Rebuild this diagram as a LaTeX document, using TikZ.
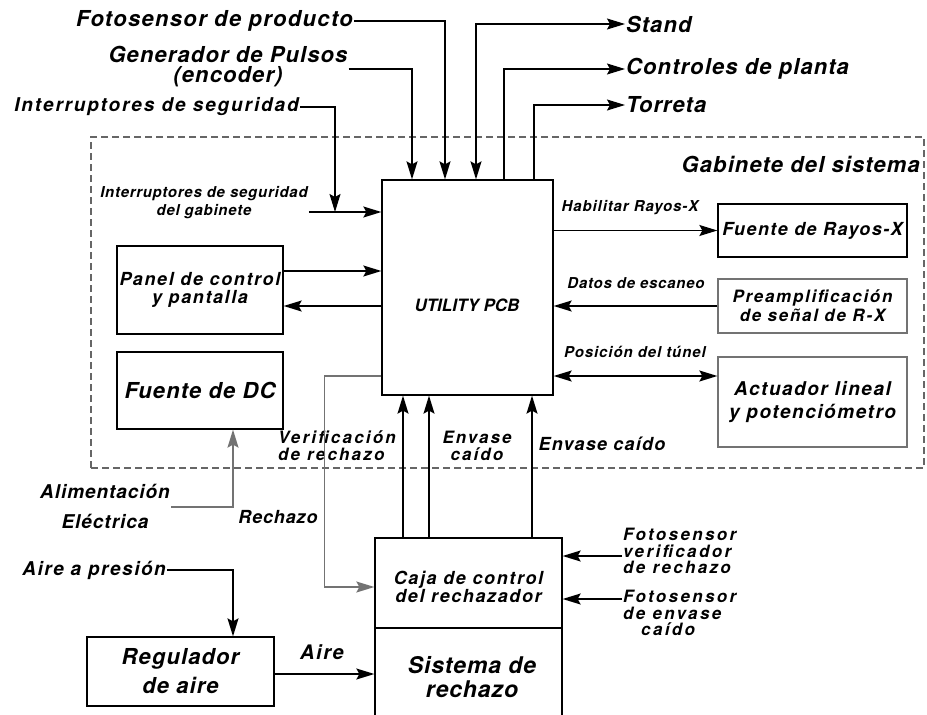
\documentclass[tikz,border=0pt]{standalone}
\usepackage{fontspec}
\setmainfont{TeX Gyre Heros}
\usetikzlibrary{arrows.meta}
\newcommand\F[3]{\bfseries\itshape\fontsize{#1}{#3}\selectfont\addfontfeature{LetterSpace=#2}}
\begin{document}
\begin{tikzpicture}[x=1pt,y=-1pt,
  every node/.style={inner sep=1pt},
  box/.style={draw,line width=1.3pt,inner sep=0pt,align=center},
  gbox/.style={box,draw=black!55},
  ln/.style={line width=1.3pt},
  arr/.style={ln,-{Stealth[length=18pt,width=11pt,inset=3pt]}},
  barr/.style={ln,{Stealth[length=18pt,width=11pt,inset=3pt]}-{Stealth[length=18pt,width=11pt,inset=3pt]}},
  garr/.style={arr,draw=black!55},
  tl/.style={align=center}
]
\useasboundingbox (0,0) rectangle (927,715);
% cabinet
\node[draw=black!60,dashed,dash pattern=on 7pt off 4pt,line width=1.2pt,minimum width=833pt,minimum height=331pt,inner sep=0pt] (gab) at (507.5,302.5) {};
\node[anchor=east,font=\F{22}{5}{22}] (gabt) at (921,164) {Gabinete del sistema};

% boxes
\node[box,minimum width=171pt,minimum height=215pt] (util) at (467.5,287.5) {};
\node[font=\F{17}{0}{17}] (utilt) at (467,305) {UTILITY PCB};
\node[box,minimum width=166pt,minimum height=88pt,font=\F{18}{9}{18}] (panel) at (200,290) {Panel de control\\y pantalla};
\node[box,minimum width=166pt,minimum height=77pt,font=\F{22}{5}{22}] (dc) at (200,390.5) {Fuente de DC};
\node[box,minimum width=189pt,minimum height=53pt,font=\F{18}{8}{18}] (frx) at (812.5,230.5) {Fuente de Rayos-X};
\node[gbox,minimum width=189pt,minimum height=54pt,font=\F{17}{10}{19}] (pre) at (812.5,306) {Preamplificación\\de señal de R-X};
\node[gbox,minimum width=189pt,minimum height=90pt,font=\F{19}{8}{23}] (act) at (812.5,402) {Actuador lineal\\y potenciómetro};
\node[box,minimum width=187pt,minimum height=90pt] (caja) at (468.5,583) {};
\node[tl,font=\F{18}{9}{17}] (cajat) at (468.5,587) {Caja de control\\del rechazador};
\node[box,minimum width=187pt,minimum height=132pt] (sis) at (468.5,694) {};
\node[tl,font=\F{23}{4}{24}] (sist) at (472,677) {Sistema de\\rechazo};
\node[box,minimum width=187pt,minimum height=69pt,font=\F{22}{5}{29}] (reg) at (180.5,671.5) {Regulador\\de aire};

% outside labels
\node[anchor=east,font=\F{22}{6}{22}] (fp) at (354,21) {Fotosensor de producto};
\node[tl,font=\F{22}{5}{20}] (gp) at (228,67) {Generador de Pulsos\\(encoder)};
\node[anchor=east,font=\F{19}{10}{19}] (is) at (300,107) {Interruptores de seguridad};
\node[tl,font=\F{15}{5}{18}] (isg) at (204,203) {Interruptores de seguridad\\del gabinete};
\node[anchor=west,font=\F{22}{5}{22}] (stand) at (625,24) {Stand};
\node[anchor=west,font=\F{22}{5}{22}] (ctrl) at (625,69) {Controles de planta};
\node[anchor=west,font=\F{22}{5}{22}] (torr) at (625,105) {Torreta};

\node[font=\F{15}{6}{15}] (hab) at (630,208) {Habilitar Rayos-X};
\node[font=\F{15}{5}{15}] (dat) at (636,283) {Datos de escaneo};
\node[font=\F{15}{6}{15}] (pos) at (635,352) {Posición del túnel};
\node[font=\F{18}{7}{18}] (ec2) at (602,444) {Envase caído};
\node[align=left,font=\F{17}{13}{17}] (ver) at (337,446) {Verificación\\de rechazo};
\node[tl,font=\F{17}{12}{17}] (ec1) at (477,446) {Envase\\caído};
\node[font=\F{18}{5}{18}] (rech) at (278,517) {Rechazo};
\node[tl,font=\F{19}{5}{30}] (alim) at (105,506) {Alimentación\\Eléctrica};
\node[anchor=east,font=\F{19}{8}{19}] (ap) at (167,570) {Aire a presión};
\node[font=\F{20}{8}{20}] (aire) at (322,652) {Aire};
\node[anchor=west,align=left,font=\F{17}{14}{16.5}] (fs1) at (622,551) {Fotosensor\\verificador\\de rechazo};
\node[anchor=west,align=left,font=\F{17}{14}{16.5}] (fs2) at (622,613) {Fotosensor\\de envase\\\hspace*{18pt}caído};

% connectors
\coordinate (isj) at (335,212);
\draw[arr] (fp.east) -| (util.north -| 445,0);
\draw[arr] (gp.east |- 0,69) -| (util.north -| 412,0);
\draw[arr] (is.east) -| (isj);
\draw[arr] (isg.east |- 0,212) -- (util.west |- 0,212);
\draw[barr] (util.north -| 476,0) |- (stand.west);
\draw[arr] (util.north -| 504,0) |- (ctrl.west);
\draw[arr] (util.north -| 534,0) |- (torr.west);
\draw[arr] (util.east |- frx.west) -- (frx.west);
\draw[arr] (pre.west) -- (util.east |- pre.west);
\draw[barr] (util.east |- 0,376) -- (act.west |- 0,376);
\draw[arr] (panel.east |- 0,271) -- (util.west |- 0,271);
\draw[arr] (util.west |- 0,306) -- (panel.east |- 0,306);
\draw[garr] (alim.east |- 0,507) -| (dc.south -| 233,0);
\draw[garr] (util.west |- 0,376) -- ++(-57,0) |- (caja.west |- 0,587);
\draw[arr] (caja.north -| 403,0) -- (util.south -| 403,0);
\draw[arr] (caja.north -| 429,0) -- (util.south -| 429,0);
\draw[arr] (caja.north -| 532,0) -- (util.south -| 532,0);
\draw[arr] (fs1.west |- 0,556) -- (caja.east |- 0,556);
\draw[arr] (fs2.west |- 0,599) -- (caja.east |- 0,599);
\draw[arr] (ap.east) -| (reg.north -| 233,0);
\draw[arr] (reg.east |- 0,674) -- (sis.west |- 0,674);
\end{tikzpicture}
\end{document}
